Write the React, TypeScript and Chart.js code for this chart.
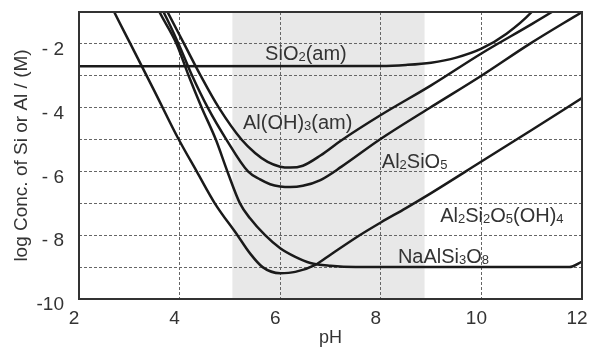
import React, { useEffect, useRef } from "react";
import { Chart, registerables } from "chart.js";

Chart.register(...registerables);

// ---- data (pH vs log concentration) ----
const sio2PH = [2, 8, 8.5, 9, 9.5, 10, 10.5, 11, 11.2];
const sio2Log = [-2.7, -2.69, -2.66, -2.59, -2.43, -2.15, -1.68, -1.0, -0.6];

const alohPH = [3.6, 3.76, 4.09, 4.42, 4.78, 5.23, 5.5, 5.75, 6.0, 6.2, 6.45, 6.8, 7.22, 8.0, 9.0, 10.0, 11.0, 11.4, 11.6];
const alohLog = [-0.5, -1, -2, -3, -4, -5, -5.42, -5.7, -5.85, -5.88, -5.82, -5.5, -5.02, -4.23, -3.3, -2.3, -1.38, -1.0, -0.8];

const al2sio5PH = [3.5, 3.68, 3.98, 4.25, 4.56, 4.93, 5.36, 5.6, 5.8, 6.0, 6.2, 6.45, 6.8, 7.22, 7.98, 8.96, 10.0, 10.96, 12.0];
const al2sio5Log = [-0.5, -1, -2, -3, -4, -5, -6, -6.25, -6.4, -6.47, -6.49, -6.45, -6.27, -5.85, -5.0, -4.02, -3.0, -2.0, -1.0];

const kaolPH = [2.55, 2.7, 3.0, 3.5, 3.97, 4.34, 4.7, 5.15, 5.4, 5.65, 6.0, 6.3, 6.7, 7.0, 7.58, 8.0, 8.5, 9.0, 10.0, 11.0, 12.0];
const kaolLog = [-0.5, -1, -1.93, -3.48, -4.96, -6, -7, -8, -8.57, -9.0, -9.19, -9.15, -8.93, -8.61, -8.0, -7.6, -7.15, -6.68, -5.69, -4.7, -3.7];

const albitePH = [3.45, 3.6, 3.94, 4.18, 4.44, 4.72, 4.95, 5.2, 5.4, 5.7, 6.0, 6.3, 6.6, 7.0, 7.5, 11.75, 12.0];
const albiteLog = [-0.5, -1, -2, -3, -4, -5, -6, -7, -7.47, -8, -8.41, -8.68, -8.87, -8.96, -9.0, -9.0, -8.83];

const seriesNames = ["SiO2(am)", "Al(OH)3(am)", "Al2SiO5", "Al2Si2O5(OH)4", "NaAlSi3O8"];

const xTickValues = [2, 4, 6, 8, 10, 12];
const yLabelValues = [-10, -8, -6, -4, -2];

const bandStart = 5.05;
const bandEnd = 8.87;

// label texts ("_" marks a subscript character)
const labelTexts = ["SiO_2(am)", "Al(OH)_3(am)", "Al_2SiO_5", "Al_2Si_2O_5(OH)_4", "NaAlSi_3O_8"];
// label anchors (left edge pH, baseline log value)
const labelPH = [5.7, 5.26, 8.02, 9.18, 8.34];
const labelLog = [-2.5, -4.66, -5.88, -7.58, -8.86];

const FONT = "'Liberation Sans', Arial, sans-serif";

function toPoints(xs: number[], ys: number[]) {
  return xs.map((x, i) => ({ x, y: ys[i] }));
}

function drawRich(ctx: CanvasRenderingContext2D, text: string, x: number, y: number, size: number, subSize: number) {
  let cx = x;
  let i = 0;
  while (i < text.length) {
    const ch = text[i];
    if (ch === "_" && i + 1 < text.length) {
      const s = text[i + 1];
      ctx.font = `${subSize}px ${FONT}`;
      ctx.fillText(s, cx, y + 1);
      cx += ctx.measureText(s).width;
      i += 2;
    } else {
      ctx.font = `${size}px ${FONT}`;
      ctx.fillText(ch, cx, y);
      cx += ctx.measureText(ch).width;
      i += 1;
    }
  }
}

const decorPlugin = {
  id: "decor",
  beforeDraw(chart: any) {
    const { ctx, chartArea, scales } = chart;
    const x0 = scales.x.getPixelForValue(bandStart);
    const x1 = scales.x.getPixelForValue(bandEnd);
    ctx.save();
    ctx.fillStyle = "#e8e8e8";
    ctx.fillRect(x0, chartArea.top, x1 - x0, chartArea.bottom - chartArea.top);
    ctx.restore();
  },
  afterDraw(chart: any) {
    const { ctx, chartArea, scales } = chart;
    ctx.save();
    ctx.strokeStyle = "#333";
    ctx.lineWidth = 2;
    ctx.strokeRect(chartArea.left, chartArea.top, chartArea.right - chartArea.left, chartArea.bottom - chartArea.top);
    ctx.fillStyle = "#333";
    ctx.textBaseline = "alphabetic";
    ctx.textAlign = "left";
    labelTexts.forEach((t, i) => {
      const px = scales.x.getPixelForValue(labelPH[i]);
      const py = scales.y.getPixelForValue(labelLog[i]);
      drawRich(ctx, t, px, py, 20, 13);
    });
    ctx.restore();
  },
};

export default function App() {
  const canvasRef = useRef<HTMLCanvasElement | null>(null);

  useEffect(() => {
    if (!canvasRef.current) return;
    const lineStyle = {
      borderColor: "#1a1a1a",
      borderWidth: 2.5,
      pointRadius: 0,
      fill: false,
      cubicInterpolationMode: "monotone" as const,
    };
    const chart = new Chart(canvasRef.current, {
      type: "line",
      data: {
        datasets: [
          { label: seriesNames[0], data: toPoints(sio2PH, sio2Log), ...lineStyle },
          { label: seriesNames[1], data: toPoints(alohPH, alohLog), ...lineStyle },
          { label: seriesNames[2], data: toPoints(al2sio5PH, al2sio5Log), ...lineStyle },
          { label: seriesNames[3], data: toPoints(kaolPH, kaolLog), ...lineStyle },
          { label: seriesNames[4], data: toPoints(albitePH, albiteLog), ...lineStyle },
        ],
      },
      options: {
        animation: false,
        responsive: false,
        maintainAspectRatio: false,
        layout: { padding: { top: 12, right: 11, left: 0, bottom: 0 } },
        plugins: {
          legend: { display: false },
          tooltip: { enabled: false },
        },
        scales: {
          x: {
            type: "linear",
            min: 2,
            max: 12,
            afterBuildTicks: (scale: any) => {
              scale.ticks = xTickValues.map((v) => ({ value: v }));
            },
            afterFit: (scale: any) => {
              scale.height = 48;
              scale.paddingLeft = 0;
              scale.paddingRight = 0;
            },
            grid: { color: "#666", lineWidth: 1, drawTicks: false },
            border: { display: false, dash: [3, 2] },
            ticks: {
              color: "#333",
              font: { size: 19, family: FONT },
              padding: 8,
              labelOffset: -5,
              maxRotation: 0,
              autoSkip: false,
            },
            title: {
              display: true,
              text: "pH",
              color: "#333",
              font: { size: 18, family: FONT },
              padding: { top: 0, bottom: -2 },
            },
          },
          y: {
            type: "linear",
            min: -10,
            max: -1,
            ticks: {
              stepSize: 1,
              color: "#333",
              font: { size: 19, family: FONT },
              padding: 15,
              labelOffset: 6,
              autoSkip: false,
              callback: (v: any) => {
                const n = Number(v);
                if (!yLabelValues.includes(n)) return "";
                return n === -10 ? "-10" : "- " + Math.abs(n);
              },
            },
            afterFit: (scale: any) => {
              scale.width = 79;
              scale.paddingTop = 0;
              scale.paddingBottom = 0;
            },
            grid: { color: "#666", lineWidth: 1, drawTicks: false },
            border: { display: false, dash: [3, 2] },
            title: {
              display: true,
              text: "log Conc. of Si or Al / (M)",
              color: "#333",
              font: { size: 19, family: FONT },
              padding: { top: 10, bottom: 0 },
            },
          },
        },
      },
      plugins: [decorPlugin],
    });
    return () => chart.destroy();
  }, []);

  return (
    <div style={{ position: "absolute", left: 0, top: 0, width: 593, height: 347, background: "#fff" }}>
      <canvas ref={canvasRef} width={593} height={347} />
    </div>
  );
}
